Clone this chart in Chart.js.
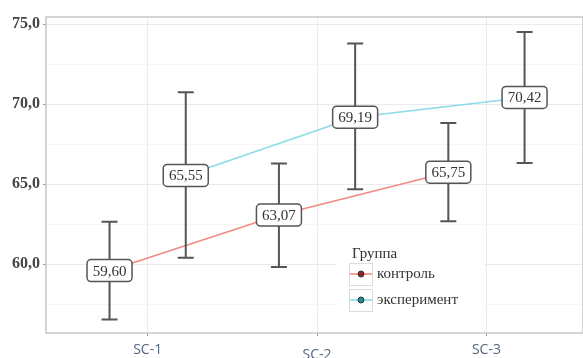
<!DOCTYPE html>
<html>
<head>
<meta charset="utf-8">
<script src="https://cdn.jsdelivr.net/npm/chart.js@4.4.1/dist/chart.umd.min.js"></script>
<style>
  body { margin: 0; background: #fff; }
  #wrap { width: 583px; height: 358px; }
</style>
</head>
<body>
<div id="wrap"><canvas id="groupChart"></canvas></div>
<script>
// values
const categories = ['SC-1', 'SC-2', 'SC-3'];
const groupNames = ['контроль', 'эксперимент'];
const controlMean = [59.60, 63.07, 65.75];
const controlLow = [56.55, 59.83, 62.69];
const controlHigh = [62.65, 66.30, 68.83];
const expMean = [65.55, 69.19, 70.42];
const expLow = [60.40, 64.69, 66.33];
const expHigh = [70.75, 73.79, 74.52];
const yTicks = [57.5, 60, 62.5, 65, 67.5, 70, 72.5, 75];

const dodge = 0.225;
const serif = '"Liberation Serif", "DejaVu Serif", serif';

function toPoints(means, shift) {
    return means.map((v, i) => ({ x: i + 1 + shift, y: v }));
}

// panel border + white legend background
const panelPlugin = {
    id: 'panel',
    beforeDatasetsDraw(chart) {
        const { ctx, chartArea: a } = chart;
        ctx.save();
        ctx.strokeStyle = '#c8c8c8';
        ctx.lineWidth = 1.5;
        ctx.strokeRect(a.left, a.top, a.right - a.left, a.bottom - a.top);
        ctx.fillStyle = '#fff';
        ctx.fillRect(337, 238, 147, 78);
        ctx.restore();
    }
};

// error bars, value boxes and the legend
const marksPlugin = {
    id: 'marks',
    afterDatasetsDraw(chart) {
        const { ctx } = chart;
        const y = chart.scales.y;
        ctx.save();
        chart.data.datasets.forEach((ds, di) => {
            const meta = chart.getDatasetMeta(di);
            meta.data.forEach((pt, i) => {
                const yl = y.getPixelForValue(ds.low[i]);
                const yh = y.getPixelForValue(ds.high[i]);
                ctx.strokeStyle = '#555';
                ctx.lineWidth = 2;
                ctx.beginPath();
                ctx.moveTo(pt.x, yl); ctx.lineTo(pt.x, yh);
                ctx.moveTo(pt.x - 8, yl); ctx.lineTo(pt.x + 8, yl);
                ctx.moveTo(pt.x - 8, yh); ctx.lineTo(pt.x + 8, yh);
                ctx.stroke();
            });
        });
        chart.data.datasets.forEach((ds, di) => {
            const meta = chart.getDatasetMeta(di);
            meta.data.forEach((pt, i) => {
                const w = 45, h = 22;
                ctx.beginPath();
                ctx.roundRect(pt.x - w / 2, pt.y - h / 2, w, h, 4);
                ctx.fillStyle = '#fff';
                ctx.fill();
                ctx.strokeStyle = '#555';
                ctx.lineWidth = 1.5;
                ctx.stroke();
                ctx.fillStyle = '#333';
                ctx.font = '15px ' + serif;
                ctx.textAlign = 'center';
                ctx.textBaseline = 'middle';
                ctx.fillText(ds.data[i].y.toFixed(2).replace('.', ','), pt.x, pt.y + 1);
            });
        });

        // legend
        ctx.fillStyle = '#333';
        ctx.font = '15px ' + serif;
        ctx.textAlign = 'left';
        ctx.textBaseline = 'middle';
        ctx.fillText('Группа', 352, 254);
        chart.data.datasets.forEach((ds, di) => {
            const top = 263 + di * 26;
            ctx.strokeStyle = '#dcdcdc';
            ctx.lineWidth = 1;
            ctx.strokeRect(349.5, top + 0.5, 23, 22);
            ctx.strokeStyle = ds.borderColor;
            ctx.lineWidth = 1.6;
            ctx.beginPath();
            ctx.moveTo(350, top + 11); ctx.lineTo(372, top + 11);
            ctx.stroke();
            ctx.beginPath();
            ctx.arc(361, top + 11, 3, 0, Math.PI * 2);
            ctx.fillStyle = ds.keyColor;
            ctx.fill();
            ctx.strokeStyle = '#333';
            ctx.lineWidth = 1;
            ctx.stroke();
            ctx.fillStyle = '#333';
            ctx.fillText(ds.label, 377, top + 11);
        });
        ctx.restore();
    }
};

new Chart(document.getElementById('groupChart'), {
    type: 'line',
    data: {
        datasets: [
            {
                label: groupNames[0],
                data: toPoints(controlMean, -dodge),
                low: controlLow, high: controlHigh,
                borderColor: '#f28a82', keyColor: '#8b2a22',
                borderWidth: 1.6, pointRadius: 0
            },
            {
                label: groupNames[1],
                data: toPoints(expMean, dodge),
                low: expLow, high: expHigh,
                borderColor: '#8adce6', keyColor: '#1f8c93',
                borderWidth: 1.6, pointRadius: 0
            }
        ]
    },
    options: {
        responsive: true,
        maintainAspectRatio: false,
        animation: false,
        layout: { padding: { top: 17, right: 0, left: 0, bottom: 0 } },
        plugins: {
            legend: { display: false },
            tooltip: { enabled: false }
        },
        scales: {
            x: {
                type: 'linear',
                min: 0.4,
                max: 3.57,
                afterBuildTicks: s => { s.ticks = [1, 2, 3].map(v => ({ value: v })); },
                afterFit: s => { s.height = 25; },
                border: { display: false },
                grid: { color: '#ebebeb', tickLength: 3, tickColor: '#999' },
                ticks: {
                    padding: 11,
                    color: '#56657f',
                    font: { family: '"Open Sans", sans-serif', size: 14, lineHeight: 0.4 },
                    callback: v => v === 2 ? ['', categories[1]] : categories[v - 1]
                }
            },
            y: {
                min: 55.7,
                max: 75.45,
                afterBuildTicks: s => { s.ticks = yTicks.map(v => ({ value: v })); },
                afterFit: s => { s.width = 46; },
                border: { display: false },
                grid: {
                    color: c => (c.tick && c.tick.value % 5 === 0) ? '#ebebeb' : '#f5f5f5',
                    tickLength: 3,
                    tickColor: c => (c.tick && c.tick.value % 5 === 0) ? '#999' : 'rgba(0,0,0,0)'
                },
                ticks: {
                    padding: 3,
                    color: '#444',
                    font: { family: serif, size: 16, weight: 'bold' },
                    callback: v => v % 5 === 0 ? v.toFixed(1).replace('.', ',') : ''
                }
            }
        }
    },
    plugins: [panelPlugin, marksPlugin]
});
</script>
</body>
</html>
